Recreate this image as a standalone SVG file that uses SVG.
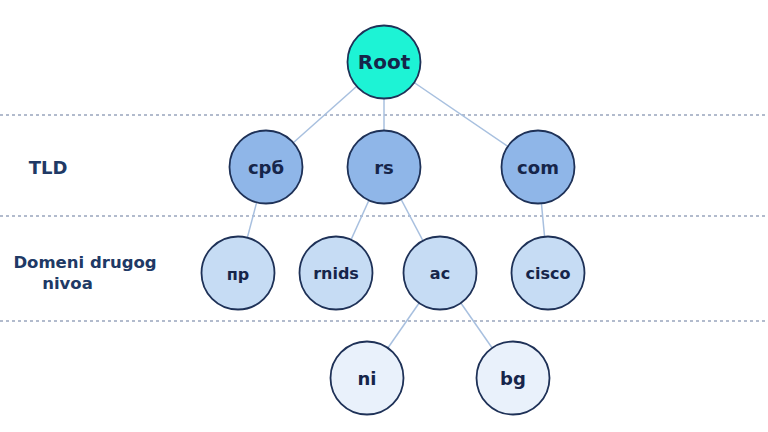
<svg xmlns="http://www.w3.org/2000/svg" width="768" height="432" viewBox="0 0 768 432">
<style>
.sep{stroke:#66799c;stroke-width:1.2;stroke-dasharray:3 3}
.edge{stroke:#a8c0df;stroke-width:1.5}
.n{stroke:#1e3157;stroke-width:1.8}
.root{fill:#1df3d5}
.l1{fill:#8fb6e8}
.l2{fill:#c6dcf4}
.l3{fill:#e9f1fb}
text{font-family:"DejaVu Sans",sans-serif;font-weight:bold;fill:#16254a;text-anchor:middle;dominant-baseline:central}
.side{fill:#203965}
</style>
<rect width="768" height="432" fill="#ffffff"/>
<g id="separators">
<line class="sep" x1="0" y1="115" x2="768" y2="115"/>
<line class="sep" x1="0" y1="216" x2="768" y2="216"/>
<line class="sep" x1="0" y1="321" x2="768" y2="321"/>
</g>
<g id="levels">
<text class="side" x="48" y="167" font-size="18">TLD</text>
<text class="side" x="85" y="262" font-size="16.5">Domeni drugog</text>
<text class="side" x="67.5" y="283" font-size="16.5">nivoa</text>
</g>
<g id="connectors">
<line class="edge" x1="384" y1="62" x2="266" y2="167"/>
<line class="edge" x1="384" y1="62" x2="384" y2="167"/>
<line class="edge" x1="384" y1="62" x2="538" y2="167"/>
<line class="edge" x1="266" y1="167" x2="238" y2="273"/>
<line class="edge" x1="384" y1="167" x2="336" y2="273"/>
<line class="edge" x1="384" y1="167" x2="440" y2="273"/>
<line class="edge" x1="538" y1="167" x2="548" y2="273"/>
<line class="edge" x1="440" y1="273" x2="367" y2="378"/>
<line class="edge" x1="440" y1="273" x2="513" y2="378"/>
</g>
<g id="root"><circle class="n root" cx="384" cy="62" r="36.5"/><text x="384" y="62" font-size="20">Root</text></g>
<g id="srb"><circle class="n l1" cx="266" cy="167" r="36.5"/><text x="266" y="167" font-size="18">срб</text></g>
<g id="rs"><circle class="n l1" cx="384" cy="167" r="36.5"/><text x="384" y="167" font-size="18">rs</text></g>
<g id="com"><circle class="n l1" cx="538" cy="167" r="36.5"/><text x="538" y="167" font-size="18">com</text></g>
<g id="pr"><circle class="n l2" cx="238" cy="273" r="36.5"/><text x="238" y="274" font-size="16">пр</text></g>
<g id="rnids"><circle class="n l2" cx="336" cy="273" r="36.5"/><text x="336" y="273" font-size="16">rnids</text></g>
<g id="ac"><circle class="n l2" cx="440" cy="273" r="36.5"/><text x="440" y="273" font-size="16">ac</text></g>
<g id="cisco"><circle class="n l2" cx="548" cy="273" r="36.5"/><text x="548" y="273" font-size="16">cisco</text></g>
<g id="ni"><circle class="n l3" cx="367" cy="378" r="36.5"/><text x="367" y="378" font-size="18">ni</text></g>
<g id="bg"><circle class="n l3" cx="513" cy="378" r="36.5"/><text x="513" y="378" font-size="18">bg</text></g>
</svg>
